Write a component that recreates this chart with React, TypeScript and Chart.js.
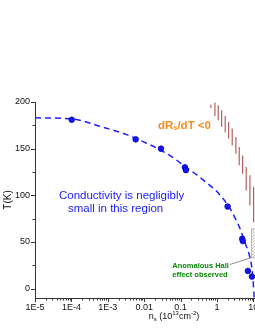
import React, { useEffect, useRef } from "react";
import { Chart, registerables } from "chart.js";
Chart.register(...registerables);

const FONT = "'Liberation Sans', Arial, sans-serif";

// measured points (n_s in 10^13 cm^-2, T in K)
const pointNs = [1.02e-4, 0.00585, 0.029, 0.132, 0.14, 1.97, 4.95, 5.15, 7.1, 9.16];
const pointT = [181, 160, 150, 130, 127, 88, 53.5, 51, 19, 13];

// dashed guide curve
const curveNs = [1e-5, 1e-4, 6e-4, 0.0033, 0.01, 0.03, 0.07, 0.13, 0.3, 0.5, 1, 2.28, 3.12, 4.29, 5.88, 8.07, 9.16, 10.08, 10.6];
const curveT = [183, 182, 174, 165, 157, 148, 139, 131, 121, 114, 104, 86, 76, 64.5, 49.5, 33.4, 21.6, 3.3, -10];

// red hatched band (dR_s/dT < 0)
const hatchNs = [0.684, 0.881, 1.087, 1.346, 1.69, 2.1, 2.63, 3.32, 4.1, 5.08, 6.38, 8.07, 10.2];
const hatchTopT = [197.1, 199.4, 196.5, 191.1, 185, 178.5, 171.5, 162.4, 151.7, 142.8, 130.3, 121.4, 108.8];
const hatchBottomT = [193.5, 185, 180.4, 173.2, 167.2, 160.7, 153.5, 144.6, 132.1, 123.2, 105.3, 89.2, 71.2];

// anomalous Hall region (gray hatch) and its pointer
const hallNs = [8.87, 30];
const hallT = [33, 64];
const pointerNs = [2.28, 9.16];
const pointerT = [25.9, 33.4];

// axis ticks
const yMajorTicks = [0, 50, 100, 150, 200];
const yMinorTicks = [25, 75, 125, 175];
const xDecades = [-5, -4, -3, -2, -1, 0, 1, 2];
const xTickLabels = ["1E-5", "1E-4", "1E-3", "0.01", "0.1", "1", "10", "100"];

const annotationPlugin = {
  id: "annot",
  beforeDatasetsDraw(chart: any) {
    const { ctx, scales } = chart;
    const xs = scales.x, ys = scales.y;
    const ca = chart.chartArea;
    const x0 = xs.getPixelForValue(hallNs[0]);
    const x1 = xs.getPixelForValue(hallNs[1]);
    const y0 = ys.getPixelForValue(hallT[1]);
    const y1 = ys.getPixelForValue(hallT[0]);
    ctx.save();
    ctx.beginPath();
    ctx.rect(ca.left, ca.top, ca.right - ca.left, ca.bottom - ca.top);
    ctx.clip();
    ctx.beginPath();
    ctx.rect(x0, y0, x1 - x0, y1 - y0);
    ctx.clip();
    ctx.strokeStyle = "rgba(150,150,150,0.9)";
    ctx.lineWidth = 0.8;
    ctx.beginPath();
    for (let s = -80; s < 80; s += 3) {
      ctx.moveTo(x0 + s, y1);
      ctx.lineTo(x0 + s + (y1 - y0), y0);
    }
    ctx.stroke();
    ctx.restore();
    ctx.save();
    ctx.strokeStyle = "rgba(170,170,170,0.9)";
    ctx.lineWidth = 0.8;
    ctx.strokeRect(x0, y0, x1 - x0, y1 - y0);
    ctx.restore();
  },
  afterDraw(chart: any) {
    const { ctx, scales } = chart;
    const xs = scales.x, ys = scales.y;
    const ca = chart.chartArea;
    ctx.save();
    ctx.strokeStyle = "#333";
    ctx.lineWidth = 1;
    ctx.beginPath();
    for (const e of xDecades) {
      for (let k = 1; k <= 9; k++) {
        const v = k * Math.pow(10, e);
        if (v < xs.min * 0.999 || v > xs.max) continue;
        const px = Math.round(xs.getPixelForValue(v)) + 0.5;
        const len = k === 1 ? 4 : 2.5;
        ctx.moveTo(px, ca.bottom);
        ctx.lineTo(px, ca.bottom + len);
      }
    }
    for (const v of yMajorTicks) {
      const py = Math.round(ys.getPixelForValue(v)) + 0.5;
      ctx.moveTo(ca.left - 4, py);
      ctx.lineTo(ca.left, py);
    }
    for (const v of yMinorTicks) {
      const py = Math.round(ys.getPixelForValue(v)) + 0.5;
      ctx.moveTo(ca.left - 2.5, py);
      ctx.lineTo(ca.left, py);
    }
    ctx.stroke();

    ctx.fillStyle = "#111";
    ctx.save();
    ctx.translate(8, (ca.top + ca.bottom) / 2);
    ctx.rotate(-Math.PI / 2);
    ctx.font = `10px ${FONT}`;
    ctx.textAlign = "center";
    ctx.textBaseline = "middle";
    ctx.fillText("T(K)", 0, 0);
    ctx.restore();

    const drawRich = (parts: any[], x: number, y: number, align: string, weight: string, color: string) => {
      ctx.fillStyle = color;
      ctx.textBaseline = "middle";
      ctx.textAlign = "left";
      let total = 0;
      for (const p of parts) {
        ctx.font = `${weight} ${p.s}px ${FONT}`;
        total += ctx.measureText(p.t).width;
      }
      let cx = align === "center" ? x - total / 2 : x;
      for (const p of parts) {
        ctx.font = `${weight} ${p.s}px ${FONT}`;
        ctx.fillText(p.t, cx, y + (p.dy || 0));
        cx += ctx.measureText(p.t).width;
      }
    };

    drawRich(
      [
        { t: "n", s: 9 },
        { t: "s", s: 6, dy: 2 },
        { t: " (10", s: 9 },
        { t: "13", s: 6, dy: -3.5 },
        { t: "cm", s: 9 },
        { t: "-2", s: 6, dy: -3.5 },
        { t: ")", s: 9 },
      ],
      (xs.left + xs.right) / 2,
      317,
      "center",
      "normal",
      "#111"
    );

    drawRich(
      [
        { t: "dR", s: 11.5 },
        { t: "s", s: 7.5, dy: 3 },
        { t: "/dT <0", s: 11.5 },
      ],
      xs.getPixelForValue(0.0239),
      ys.getPixelForValue(175),
      "left",
      "bold",
      "rgb(250,140,30)"
    );

    ctx.fillStyle = "rgb(25,25,255)";
    ctx.font = `11.5px ${FONT}`;
    ctx.textAlign = "left";
    ctx.textBaseline = "middle";
    ctx.fillText("Conductivity is negligibly", xs.getPixelForValue(4.56e-5), ys.getPixelForValue(99.9));
    ctx.fillText("small in this region", xs.getPixelForValue(8.07e-5), ys.getPixelForValue(85.9));

    ctx.fillStyle = "rgb(10,135,10)";
    ctx.font = `bold 7.5px ${FONT}`;
    ctx.fillText("Anomalous Hall", xs.getPixelForValue(0.0591), ys.getPixelForValue(24.8));
    ctx.fillText("effect observed", xs.getPixelForValue(0.0591), ys.getPixelForValue(14.8));
    ctx.restore();
  },
};

export default function App() {
  const ref = useRef<HTMLCanvasElement | null>(null);
  useEffect(() => {
    if (!ref.current) return;
    const hatchData: any[] = [];
    hatchNs.forEach((n, i) => {
      hatchData.push({ x: n, y: hatchTopT[i] });
      hatchData.push({ x: n, y: hatchBottomT[i] });
      hatchData.push({ x: n, y: null });
    });
    const chart = new Chart(ref.current, {
      type: "line",
      data: {
        datasets: [
          {
            label: "points",
            data: pointNs.map((n, i) => ({ x: n, y: pointT[i] })),
            showLine: false,
            pointRadius: 2.8,
            pointBackgroundColor: "rgb(20,20,235)",
            pointBorderColor: "rgb(0,0,200)",
            pointBorderWidth: 0.8,
          },
          {
            label: "curve",
            data: curveNs.map((n, i) => ({ x: n, y: curveT[i] })),
            borderColor: "rgb(30,30,255)",
            borderWidth: 1.5,
            borderDash: [6, 4],
            pointRadius: 0,
            cubicInterpolationMode: "monotone",
          },
          {
            label: "pointer",
            data: pointerNs.map((n, i) => ({ x: n, y: pointerT[i] })),
            borderColor: "rgb(140,140,140)",
            borderWidth: 1,
            pointRadius: 0,
          },
          {
            label: "hatch",
            data: hatchData,
            borderColor: "rgba(160,55,55,0.8)",
            borderWidth: 1.2,
            pointRadius: 0,
            spanGaps: false,
          },
        ],
      } as any,
      options: {
        animation: false,
        responsive: true,
        maintainAspectRatio: false,
        events: [],
        layout: { padding: { top: 102, right: 17, left: 0, bottom: 0 } },
        plugins: { legend: { display: false }, tooltip: { enabled: false } },
        scales: {
          x: {
            type: "logarithmic",
            min: 1e-5,
            max: 437,
            grid: { display: false, drawTicks: true, tickLength: 4 },
            border: { display: true, color: "#333", width: 1 },
            ticks: {
              autoSkip: false,
              maxRotation: 0,
              padding: 0,
              color: "#111",
              font: { size: 9, family: FONT },
              callback: (v: any) => {
                const e = Math.log10(Number(v));
                const r = Math.round(e);
                if (Math.abs(e - r) > 1e-6) return "";
                const idx = xDecades.indexOf(r);
                return idx >= 0 ? xTickLabels[idx] : "";
              },
            },
            afterFit: (s: any) => {
              s.height = 32;
            },
          },
          y: {
            min: -10,
            max: 200,
            grid: { display: false, drawTicks: true, tickLength: 4 },
            border: { display: true, color: "#333", width: 1 },
            ticks: {
              stepSize: 50,
              includeBounds: false,
              padding: 1,
              color: "#111",
              font: { size: 9, family: FONT },
            },
            afterFit: (s: any) => {
              s.width = 35;
            },
          },
        },
      } as any,
      plugins: [annotationPlugin],
    });
    return () => chart.destroy();
  }, []);
  return (
    <div style={{ position: "absolute", left: 0, top: 0, width: 255, height: 330, overflow: "hidden" }}>
      <div style={{ position: "relative", width: 330, height: 330 }}>
        <canvas ref={ref} />
      </div>
    </div>
  );
}
